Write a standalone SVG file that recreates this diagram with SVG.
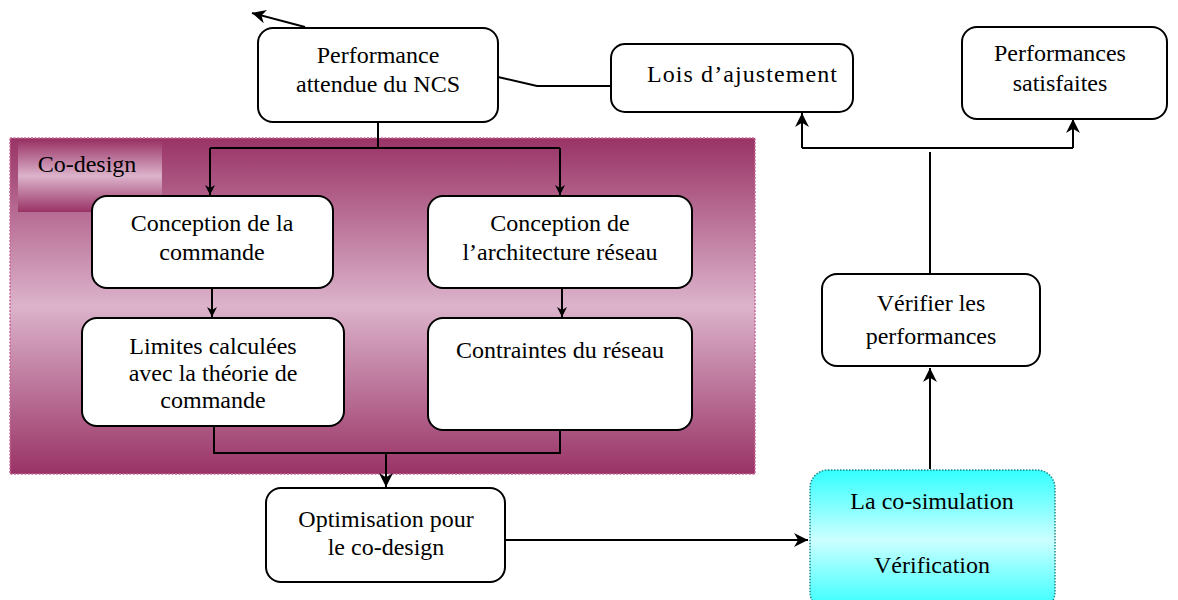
<svg xmlns="http://www.w3.org/2000/svg" width="1178" height="600" viewBox="0 0 1178 600">
<defs>
<linearGradient id="gMag" x1="0" y1="0" x2="0" y2="1">
<stop offset="0" stop-color="#993366"/>
<stop offset="0.5" stop-color="#dcb3cb"/>
<stop offset="1" stop-color="#993366"/>
</linearGradient>
<linearGradient id="gCyan" x1="0" y1="0" x2="0" y2="1">
<stop offset="0" stop-color="#33ffff"/>
<stop offset="0.5" stop-color="#ccffff"/>
<stop offset="1" stop-color="#33ffff"/>
</linearGradient>
<marker id="arr" viewBox="0 0 10 10" refX="10" refY="5" markerWidth="10" markerHeight="10" markerUnits="userSpaceOnUse" orient="auto">
<path d="M0,0 L10,5 L0,10 L3,5 Z" fill="#000"/>
</marker>
<marker id="arrB" viewBox="0 0 10 10" refX="10" refY="5" markerWidth="14" markerHeight="14" markerUnits="userSpaceOnUse" orient="auto">
<path d="M0,0 L10,5 L0,10 L3,5 Z" fill="#000"/>
</marker>
</defs>
<style>
.box{fill:#fff;stroke:#000;stroke-width:2}
.t{font-family:"Liberation Serif","Times New Roman",serif;font-size:24px;fill:#000;text-anchor:middle}
.c{fill:none;stroke:#000;stroke-width:2}
</style>
<rect width="1178" height="600" fill="#fff"/>
<g id="codesign-area">
<rect x="10" y="138" width="745" height="336" fill="url(#gMag)" stroke="#c96a9a" stroke-width="1.5" stroke-dasharray="2,1.5"/>
<rect x="18" y="140" width="144" height="72" fill="url(#gMag)"/>
<text class="t" x="87" y="172">Co-design</text>
</g>
<g id="n-performance">
<rect class="box" x="258" y="28" width="240" height="94" rx="15"/>
<text class="t" x="378" y="63">Performance</text>
<text class="t" x="378" y="92">attendue du NCS</text>
</g>
<g id="n-lois">
<rect class="box" x="611" y="44" width="242" height="68" rx="14"/>
<text class="t" x="742" y="82" textLength="190" lengthAdjust="spacing">Lois d’ajustement</text>
</g>
<g id="n-satisfaites">
<rect class="box" x="962" y="27" width="205" height="92" rx="15"/>
<text class="t" x="1060" y="61">Performances</text>
<text class="t" x="1060" y="91">satisfaites</text>
</g>
<g id="n-conception-commande">
<rect class="box" x="92" y="196" width="241" height="92" rx="15"/>
<text class="t" x="212" y="231">Conception de la</text>
<text class="t" x="212" y="260">commande</text>
</g>
<g id="n-conception-archi">
<rect class="box" x="428" y="196" width="264" height="92" rx="15"/>
<text class="t" x="560" y="231">Conception de</text>
<text class="t" x="560" y="260">l’architecture réseau</text>
</g>
<g id="n-limites">
<rect class="box" x="82" y="318" width="262" height="108" rx="15"/>
<text class="t" x="213" y="354">Limites calculées</text>
<text class="t" x="213" y="381">avec la théorie de</text>
<text class="t" x="213" y="408">commande</text>
</g>
<g id="n-contraintes">
<rect class="box" x="428" y="318" width="264" height="112" rx="15"/>
<text class="t" x="560" y="358">Contraintes du réseau</text>
</g>
<g id="n-optimisation">
<rect class="box" x="266" y="488" width="239" height="94" rx="15"/>
<text class="t" x="386" y="527">Optimisation pour</text>
<text class="t" x="386" y="555">le co-design</text>
</g>
<g id="n-cosim">
<rect x="810" y="470" width="245" height="140" rx="18" fill="url(#gCyan)" stroke="#1a8a8a" stroke-width="1.5" stroke-dasharray="1.5,1.5"/>
<text class="t" x="932" y="509">La co-simulation</text>
<text class="t" x="932" y="573">Vérification</text>
</g>
<g id="n-verifier">
<rect class="box" x="822" y="274" width="218" height="92" rx="15"/>
<text class="t" x="931" y="311">Vérifier les</text>
<text class="t" x="931" y="344">performances</text>
</g>
<g id="connectors">
<path class="c" d="M305,27 L252,13" marker-end="url(#arrB)"/>
<path class="c" d="M498,77 L537,86 L611,86"/>
<path class="c" d="M378,122 L378,148"/>
<path class="c" d="M210,148 L560,148"/>
<path class="c" d="M210,148 L210,195" marker-end="url(#arr)"/>
<path class="c" d="M560,148 L560,195" marker-end="url(#arr)"/>
<path class="c" d="M212,288 L212,317" marker-end="url(#arr)"/>
<path class="c" d="M562,288 L562,317" marker-end="url(#arr)"/>
<path class="c" d="M214,426 L214,453 L560,453 L560,430"/>
<path class="c" d="M386,453 L386,487" marker-end="url(#arrB)"/>
<path class="c" d="M505,540 L808,540" marker-end="url(#arrB)"/>
<path class="c" d="M930,469 L930,368" marker-end="url(#arrB)"/>
<path class="c" d="M930,273 L930,152"/>
<path class="c" d="M802,148 L1073,148"/>
<path class="c" d="M802,148 L802,113" marker-end="url(#arrB)"/>
<path class="c" d="M1073,148 L1073,119" marker-end="url(#arrB)"/>
</g>
</svg>
